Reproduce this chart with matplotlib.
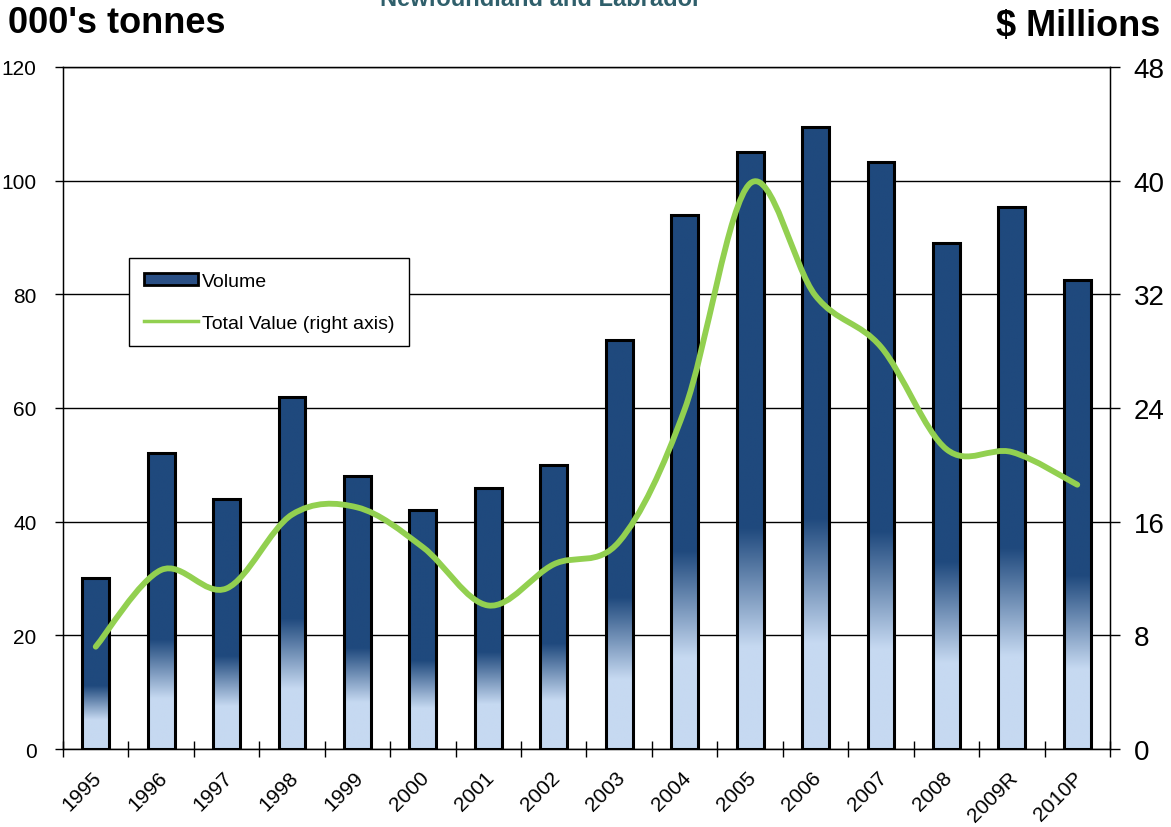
import matplotlib.pyplot as plt
import numpy as np
from matplotlib.colors import LinearSegmentedColormap
from matplotlib.path import Path
from matplotlib.patches import PathPatch, Patch
from matplotlib.lines import Line2D
from matplotlib.ticker import FixedLocator, NullFormatter
from matplotlib.transforms import ScaledTranslation

plt.rcParams['font.family'] = ['Liberation Sans', 'DejaVu Sans']

# volume (000's tonnes) and total value ($ millions) per year
years = ['1995', '1996', '1997', '1998', '1999', '2000', '2001', '2002',
         '2003', '2004', '2005', '2006', '2007', '2008', '2009R', '2010P']
volume = [30, 52, 44, 62, 48, 42, 46, 50, 72, 94, 105, 109.5, 103.3, 89, 95.4, 82.5]
value = [7.2, 12.6, 11.3, 16.5, 17.0, 14.2, 10.1, 13.0, 14.6, 23.9, 39.8, 31.9,
         28.3, 21.1, 20.9, 18.6]

dark = '#1F497D'
light = '#C6D9F1'
green = '#92D050'

fig = plt.figure(figsize=(11.71, 8.28), dpi=100)
ax = fig.add_axes([0.0538, 0.0942, 0.8941, 0.8237])

x = np.arange(len(years))
w = 0.41

# bars: light blue at the base fading into navy, relative to each bar's height
cmap = LinearSegmentedColormap.from_list('vol', [(0, light), (0.17, light), (0.37, dark), (1, dark)])
grad = np.linspace(0, 1, 256).reshape(-1, 1)
bars = ax.bar(x, volume, width=w, facecolor='none', edgecolor='black', linewidth=2.2, zorder=3)
for b in bars:
    x0, h = b.get_x(), b.get_height()
    im = ax.imshow(grad, extent=[x0, x0 + w, 0, h], origin='lower', aspect='auto',
                   cmap=cmap, zorder=2, interpolation='bilinear')
    im.set_clip_path(b)

ax.set_xlim(-0.5, len(years) - 0.5)
ax.set_ylim(0, 120)
ax.set_yticks(np.arange(0, 121, 20))
ax.yaxis.grid(True, color='black', linewidth=1)
ax.set_axisbelow(True)
ax.tick_params(axis='y', direction='out', length=6, width=1, labelsize=15, pad=13)

# ticks between categories, labels at the centres
ax.xaxis.set_major_locator(FixedLocator(np.arange(-0.5, len(years), 1)))
ax.xaxis.set_major_formatter(NullFormatter())
ax.xaxis.set_minor_locator(FixedLocator(x))
ax.set_xticklabels(years, minor=True)
ax.tick_params(axis='x', which='major', direction='inout', length=12, width=1)
ax.tick_params(axis='x', which='minor', length=0, labelsize=15, pad=18)
shift = ScaledTranslation(3 / 100, 0, fig.dpi_scale_trans)
for lab in ax.get_xticklabels(minor=True):
    lab.set_rotation(45)
    lab.set_ha('right')
    lab.set_va('center')
    lab.set_rotation_mode('anchor')
    lab.set_transform(lab.get_transform() + shift)

for s in ax.spines.values():
    s.set_color('black')
    s.set_linewidth(1)

# value line on right axis, smoothed with cubic bezier segments
ax2 = ax.twinx()
ax2.set_ylim(0, 48)
ax2.set_yticks(np.arange(0, 49, 8))
ax2.tick_params(axis='y', direction='out', length=7, width=1, labelsize=20, pad=10)
pts = np.column_stack([x, value]).astype(float)
verts = [pts[0]]
codes = [Path.MOVETO]
n = len(pts)
for i in range(n - 1):
    p0 = pts[max(i - 1, 0)]
    p1 = pts[i]
    p2 = pts[i + 1]
    p3 = pts[min(i + 2, n - 1)]
    verts += [p1 + (p2 - p0) / 6, p2 - (p3 - p1) / 6, p2]
    codes += [Path.CURVE4] * 3
ax2.add_patch(PathPatch(Path(verts, codes), facecolor='none', edgecolor=green,
                        linewidth=4.2, capstyle='round', joinstyle='round', zorder=4))

handles = [Patch(facecolor='#2A4F85', edgecolor='black', linewidth=2),
           Line2D([], [], color=green, linewidth=2.5)]
leg = ax2.legend(handles, ['Volume', 'Total Value (right axis)'], loc='upper left',
                 bbox_to_anchor=(0.063, 0.72), borderaxespad=0, fancybox=False,
                 edgecolor='black', framealpha=1, fontsize=14, labelspacing=1.3,
                 handlelength=2.8, handleheight=0.6, handletextpad=0.2,
                 borderpad=0.75)
leg.get_frame().set_linewidth(1)

fig.text(0.007, 0.972, "000's tonnes", fontsize=26, fontweight='bold', va='center', ha='left')
fig.text(0.991, 0.968, "$ Millions", fontsize=26, fontweight='bold', va='center', ha='right')
fig.text(0.462, 0.993, "Newfoundland and Labrador", fontsize=17, fontweight='bold',
         color='#2F5F6B', va='baseline', ha='center')

fig.savefig('out.png', dpi=100)
